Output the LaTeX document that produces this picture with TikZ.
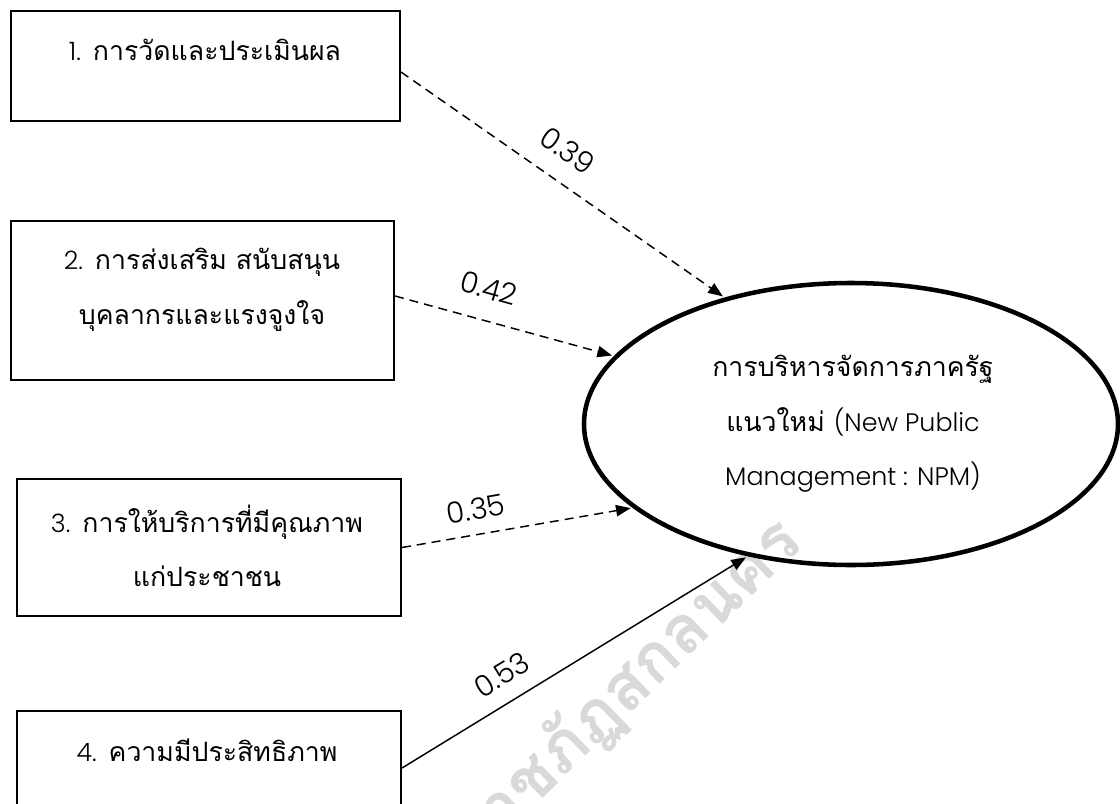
\documentclass[tikz,border=0pt]{standalone}
\usepackage{fontspec}
\setmainfont[Script=Thai]{Loma}
\newfontfamily\latinf{Poppins Light}
\newcommand\latn[1]{{\latinf\fontsize{19pt}{41pt}\selectfont #1}}
\usetikzlibrary{shapes.geometric,arrows.meta,fit}
\begin{document}
\begin{tikzpicture}[x=0.75pt,y=-0.75pt,
  boxnode/.style={draw, line width=1.5pt, inner sep=0pt},
  txt/.style={font=\fontsize{20pt}{41pt}\selectfont, align=center, inner sep=0pt},
  conn/.style={line width=1.1pt, -{Triangle[length=11pt,width=8.5pt]}, shorten >=1.5pt},
  dashedconn/.style={conn, dash pattern=on 6.75pt off 4.5pt},
  lab/.style={font=\latinf\fontsize{22pt}{24pt}\selectfont, inner sep=0pt, sloped},
  wmark/.style={font=\bfseries\fontsize{50pt}{60pt}\selectfont, text=black!15, inner sep=0pt}
]
\useasboundingbox (0,0) rectangle (1120,803);
\clip (0,0) rectangle (1120,803);
\fill[white] (0,0) rectangle (1120,803);

\node[wmark, rotate=44, anchor=base east] (wm) at (805,545) {มหาวิทยาลัยราชภัฏสกลนคร};

\node[boxnode, fit={(11,11)(400,121)}] (b1) {};
\node[boxnode, fit={(11,221)(394,380)}] (b2) {};
\node[boxnode, fit={(17,479)(401,616)}] (b3) {};
\node[boxnode, fit={(17,711)(401,848)}] (b4) {};

\node[draw, ellipse, line width=3.4pt, minimum width=400.5pt, minimum height=211.5pt, inner sep=0pt] (el) at (851,424) {};

\node[txt] (t1) at (205,50) {\latn{1.} การวัดและประเมินผล};
\node[txt] (t2) at (202,290) {\latn{2.} การส่งเสริม สนับสนุน\\บุคลากรและแรงจูงใจ};
\node[txt] (t3) at (207,546) {\latn{3.} การให้บริการที่มีคุณภาพ\\แก่ประชาชน};
\node[txt] (t4) at (207,750) {\latn{4.} ความมีประสิทธิภาพ};
\node[txt] (t5) at (853,424) {การบริหารจัดการภาครัฐ\\แนวใหม่ \latn{(New Public}\\\latn{Management : NPM)}};

\draw[dashedconn] ([yshift=-4.5pt]b1.east) -- (el.135) node[lab, pos=0.46, above=14.5pt] (l1) {0.39};
\draw[dashedconn] ([yshift=3.4pt]b2.east) -- (el.164) node[lab, pos=0.39, above=15.5pt] (l2) {0.42};
\draw[dashedconn] (b3.east) -- (el.201) node[lab, pos=0.34, above=10.6pt] (l3) {0.35};
\draw[conn] ([yshift=8.6pt]b4.east) -- (el.232) node[lab, pos=0.33, above=12pt] (l4) {0.53};
\end{tikzpicture}
\end{document}
